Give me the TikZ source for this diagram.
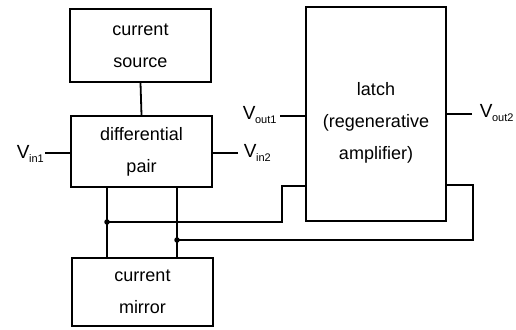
\documentclass[tikz,border=0pt]{standalone}
\usepackage{fontspec}
\setmainfont{Liberation Sans}
\newcommand{\blocktext}{\fontsize{18}{32}\selectfont}
% signal name: a large V with a small subscript set low beside it
\newcommand{\sig}[1]{{\fontsize{19}{19}\selectfont V}\kern-0.5pt\raisebox{-4pt}{\fontsize{11}{11}\selectfont #1}}
\begin{document}
\begin{tikzpicture}[x=1pt,y=-1pt,line width=1.8pt,
  block/.style={draw,rectangle,inner sep=0pt,align=center,font=\blocktext},
  wire/.style={line width=1.8pt},
  junction/.style={circle,fill,inner sep=0pt,minimum size=5.5pt},
  sigtext/.style={anchor=base west,inner sep=0pt}]
\useasboundingbox (0,0) rectangle (516,329);

% functional blocks
\node[block,minimum width=141pt,minimum height=73pt] (src) at (140.5,45.5) {current\\source};
\node[block,minimum width=141pt,minimum height=71pt] (dp) at (141.5,151.5) {differential\\pair};
\node[block,minimum width=141pt,minimum height=68pt] (mir) at (142.5,292) {current\\mirror};
\node[block,minimum width=140pt,minimum height=214pt,
  label={[font=\blocktext,align=center,yshift=-9pt]center:latch\\(regenerative\\amplifier)}] (latch) at (376,114) {};

% bias current into the pair
\draw[wire] (src.south) -- (dp.north);

% terminal wires
\coordinate (vin1) at (45,153);
\coordinate (vin2) at (238,153);
\coordinate (vout1) at (280,116);
\coordinate (vout2) at (472,114);
\draw[wire] (vin1) -- (vin1 -| dp.west);
\draw[wire] (vin2) -- (vin2 -| dp.east);
\draw[wire] (vout1) -- (vout1 -| latch.west);
\draw[wire] (vout2) -- (vout2 -| latch.east);

% terminal labels
\node[sigtext] (lin1) at (16,158) {\sig{in1}};
\node[sigtext] (lin2) at (243,157) {\sig{in2}};
\node[sigtext] (lout1) at (242,119) {\sig{out1}};
\node[sigtext] (lout2) at (479,117) {\sig{out2}};

% pair outputs down to the mirror
\coordinate (dl) at (107,187);
\coordinate (dr) at (177,187);
\draw[wire] (dl) -- (dl |- mir.north);
\draw[wire] (dr) -- (dr |- mir.north);

% cross-coupled feedback into the latch
\node[junction] (j1) at (107,222) {};
\node[junction] (j2) at (177,240) {};
\coordinate (k1) at (282,186);
\coordinate (k2) at (473,185);
\draw[wire] (j1.center) -- (j1.center -| k1) -- (k1) -- (k1 -| latch.west);
\draw[wire] (j2.center) -- (j2.center -| k2) -- (k2) -- (k2 -| latch.east);
\end{tikzpicture}
\end{document}
